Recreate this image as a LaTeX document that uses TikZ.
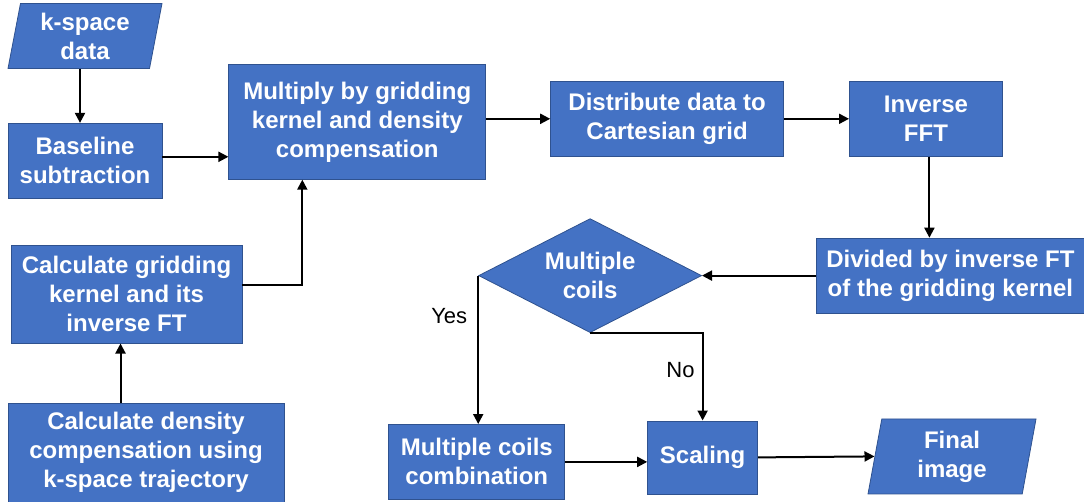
\documentclass[tikz,border=0pt]{standalone}
\usepackage{fontspec}
\setmainfont{Liberation Sans}
\usetikzlibrary{positioning,shapes.geometric,arrows.meta}
\definecolor{boxblue}{RGB}{68,114,196}
\definecolor{boxedge}{RGB}{47,82,143}

\begin{document}
\begin{tikzpicture}[x=1pt,y=1pt,font=\fontsize{24}{29}\selectfont\bfseries,
  proc/.style={draw=boxedge,fill=boxblue,text=white,line width=0.8pt,
    inner sep=0pt,align=center},
  io/.style={proc,trapezium,trapezium left angle=75,trapezium right angle=105,
    trapezium stretches body},
  decide/.style={proc,diamond,aspect=2},
  lbl/.style={font=\fontsize{22}{26}\selectfont,text=black,inner sep=0pt},
  flow/.style={-{Triangle[length=10pt,width=10pt]},line width=2pt}]

  \useasboundingbox (0,0) rectangle (1084,-502);

  % left column and top row
  \node[io,minimum width=154pt,minimum height=65pt] (kspace) at (85,-36) {k-space\\data};
  \node[proc,minimum width=154pt,minimum height=75pt,below=54pt of kspace] (baseline) {Baseline\\subtraction};
  \node[proc,minimum width=257pt,minimum height=115pt,right=66pt of baseline,yshift=39pt] (multiply) {Multiply by gridding\\kernel and density\\compensation};
  \node[proc,minimum width=233pt,minimum height=75pt,right=64pt of multiply,yshift=3pt] (distribute) {Distribute data to\\Cartesian grid};
  \node[proc,minimum width=153pt,minimum height=75pt,right=65pt of distribute] (ifft) {Inverse\\FFT};
  \node[proc,minimum width=268pt,minimum height=75pt,below=81pt of ifft,xshift=24.5pt] (divide) {Divided by inverse FT\\of the gridding kernel};
  \node[decide,minimum width=223pt,minimum height=114pt,left=114pt of divide] (coils) {Multiple\\coils};
  \node[proc,minimum width=231pt,minimum height=98pt,below=46pt of baseline,xshift=41.5pt] (kernel) {Calculate gridding\\kernel and its\\inverse FT};
  \node[proc,minimum width=276pt,minimum height=99pt,below=59pt of kernel,xshift=19.5pt] (density) {Calculate density\\compensation using\\k-space trajectory};

  % bottom row
  \node[proc,minimum width=176pt,minimum height=75pt,right=104pt of density,yshift=-9.5pt] (combine) {Multiple coils\\combination};
  \node[proc,minimum width=110pt,minimum height=73pt,right=82pt of combine,yshift=4.5pt] (scaling) {Scaling};
  \node[io,minimum width=168pt,minimum height=75pt,right=116.5pt of scaling,yshift=1pt] (final) {Final\\image};

  % connectors
  \draw[flow] ([xshift=-5pt]kspace.south) -- ([xshift=-5pt]baseline.north);
  \draw[flow] ([yshift=4pt]baseline.east) -- ([yshift=4pt]baseline.east -| multiply.west);
  \draw[flow] ([yshift=9pt]kernel.east) -| ([xshift=-55pt]multiply.south);
  \draw[flow] ([xshift=-6pt]kernel.south |- density.north) -- ([xshift=-6pt]kernel.south);
  \draw[flow] (multiply.east |- distribute.west) -- (distribute.west);
  \draw[flow] (distribute.east) -- (ifft.west);
  \draw[flow] ([xshift=3.5pt]ifft.south) -- ([xshift=3.5pt]ifft.south |- divide.north);
  \draw[flow] (divide.west) -- (coils.east);
  \draw[flow] (coils.west) -- node[lbl,left=10pt,pos=0.27] (yes) {Yes} (coils.west |- combine.north);
  \draw[flow] (coils.south) -| node[lbl,left=7pt,pos=0.71] (no) {No} (scaling.north);
  \draw[flow] (combine.east) -- (combine.east -| scaling.west);
  \draw[flow] (scaling.east) -- (final.west);
\end{tikzpicture}
\end{document}
